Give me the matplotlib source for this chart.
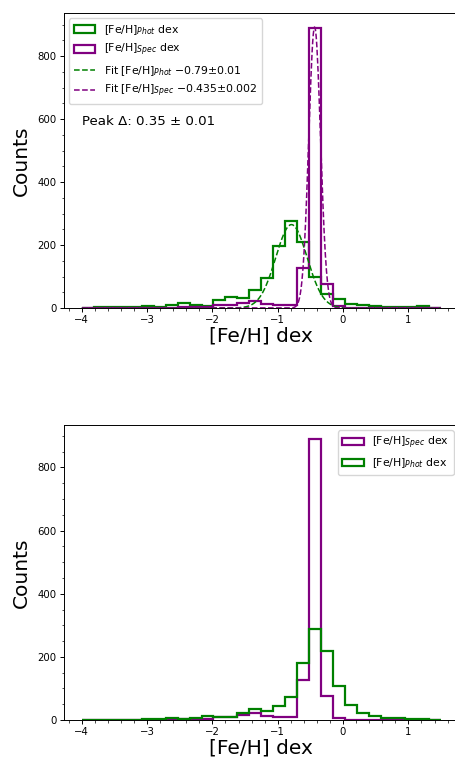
import numpy as np
import matplotlib
matplotlib.use("Agg")
import matplotlib.pyplot as plt

# ---- data ----
bin_lo, bin_hi, n_bins = -4.0, 1.5, 30

spec_counts = [1, 1, 1, 1, 1, 1, 1, 1, 2, 3, 3, 8, 9, 16, 22, 14, 8, 8, 127,
               890, 76, 7, 1, 0, 0, 0, 0, 0, 0, 0]
phot_counts_top = [0, 3, 3, 3, 3, 6, 3, 8, 15, 9, 6, 27, 35, 33, 56, 94, 198,
                   276, 210, 97, 45, 28, 13, 8, 5, 3, 2, 2, 5, 1]
phot_counts_bottom = [1, 1, 1, 1, 1, 2, 2, 5, 2, 5, 14, 8, 8, 21, 36, 29, 44,
                      72, 181, 287, 218, 108, 47, 23, 13, 6, 5, 3, 2, 1]

fit_phot = dict(mu=-0.79, sigma=0.24, amp=265.0)
fit_spec = dict(mu=-0.435, sigma=0.09, amp=893.0)

peak_text = "Peak \u0394: 0.35 \u00b1 0.01"
lab_phot = r"[Fe/H]$_{Phot}$ dex"
lab_spec = r"[Fe/H]$_{Spec}$ dex"
lab_fit_phot = r"Fit [Fe/H]$_{Phot}$ $-$0.79$\pm$0.01"
lab_fit_spec = r"Fit [Fe/H]$_{Spec}$ $-$0.435$\pm$0.002"

edges = np.linspace(bin_lo, bin_hi, n_bins + 1)
centers = 0.5 * (edges[:-1] + edges[1:])
xfit = np.linspace(bin_lo, bin_hi, 600)


def gauss(x, p):
    return p["amp"] * np.exp(-0.5 * ((x - p["mu"]) / p["sigma"]) ** 2)


GREEN = "green"
PURPLE = "purple"
LW = 1.6
TICK_FS = 7.3
LAB_FS = 14.5
LEG_FS = 7.8

fig = plt.figure(figsize=(4.56, 7.6), dpi=100)
W, H = 456.0, 760.0
left = 63.8 / W
width = (459.0 - 63.8) / W
ax1 = fig.add_axes([left, 1 - 308 / H, width, 295 / H])
ax2 = fig.add_axes([left, 1 - 720 / H, width, 295 / H])

# top panel
ax1.hist(centers, bins=edges, weights=phot_counts_top, histtype="step",
         color=GREEN, lw=LW, label=lab_phot)
ax1.hist(centers, bins=edges, weights=spec_counts, histtype="step",
         color=PURPLE, lw=LW, label=lab_spec)
ax1.plot(xfit, gauss(xfit, fit_phot), "--", color=GREEN, lw=1.1,
         label=lab_fit_phot)
ax1.plot(xfit, gauss(xfit, fit_spec), "--", color=PURPLE, lw=1.1,
         label=lab_fit_spec)
ax1.legend(loc="upper left", fontsize=LEG_FS, framealpha=0.8)
ax1.text(0.045, 0.632, peak_text, transform=ax1.transAxes, fontsize=9.6,
         va="center", ha="left")

# bottom panel
ax2.hist(centers, bins=edges, weights=spec_counts, histtype="step",
         color=PURPLE, lw=LW, label=lab_spec)
ax2.hist(centers, bins=edges, weights=phot_counts_bottom, histtype="step",
         color=GREEN, lw=LW, label=lab_phot)
ax2.legend(loc="upper right", fontsize=LEG_FS, framealpha=0.8)

for ax in (ax1, ax2):
    ax.set_xlabel("[Fe/H] dex", fontsize=LAB_FS, labelpad=1)
    ax.set_ylabel("Counts", fontsize=LAB_FS, labelpad=5)
    ax.minorticks_on()
    ax.tick_params(axis="both", which="major", labelsize=TICK_FS,
                   length=3, width=0.7, pad=2)
    ax.tick_params(axis="both", which="minor", length=1.8, width=0.5)
    for s in ax.spines.values():
        s.set_linewidth(0.7)
    ax.set_yticks([0, 200, 400, 600, 800])

fig.savefig("out.png", dpi=100)
